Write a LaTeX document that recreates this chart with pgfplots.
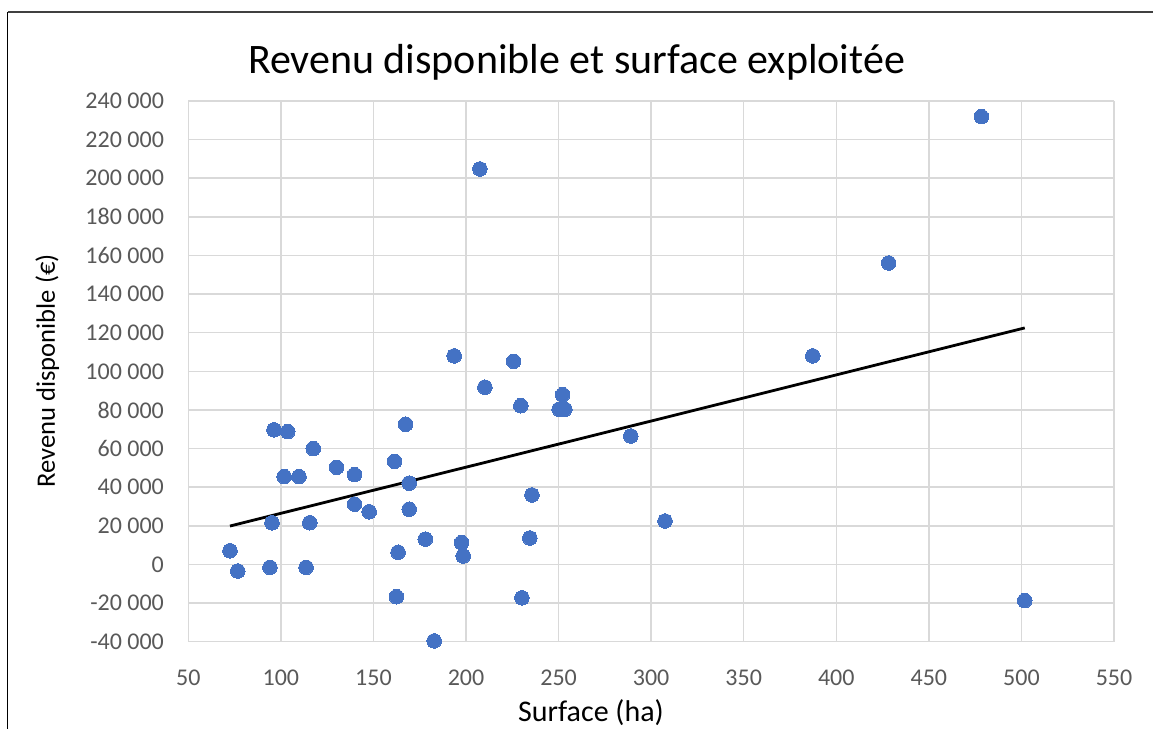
\documentclass[border=0pt]{standalone}
\usepackage{fontspec}
\setmainfont{Carlito}
\usepackage{pgfplots}
\pgfplotsset{compat=1.18}
\definecolor{excelblue}{HTML}{4472C4}
\definecolor{gridgray}{HTML}{D9D9D9}
\definecolor{ticktext}{HTML}{595959}
\begin{document}
\begin{tikzpicture}
\useasboundingbox (0,0) rectangle (576.5pt,364.5pt);
\fill[white] (0,0) rectangle (576.5pt,364.5pt);
\draw[black!75, line width=1pt] (3.75pt,358.5pt) -- (576.5pt,358.5pt);
\draw[black, line width=0.9pt] (3.75pt,0pt) -- (3.75pt,358.5pt);
\begin{axis}[
  at={(94.15pt,43.65pt)}, anchor=south west,
  scale only axis, width=462.85pt, height=270.35pt,
  xmin=50, xmax=550, ymin=-40000, ymax=240000,
  xtick={50,100,...,550},
  ytick={-40000,-20000,0,20000,40000,60000,80000,100000,120000,140000,160000,180000,200000,220000,240000},
  yticklabels={-40 000,-20 000,0,20 000,40 000,60 000,80 000,100 000,120 000,140 000,160 000,180 000,200 000,220 000,240 000},
  scaled y ticks=false,
  /pgf/number format/assume math mode=true,
  xticklabel style={font=\fontsize{12}{14}\selectfont, text=ticktext, anchor=north, inner sep=0pt, yshift=-14pt},
  yticklabel style={font=\fontsize{12}{14}\selectfont, text=ticktext, anchor=east, inner sep=0pt, xshift=-12pt},
  grid=major,
  major grid style={draw=gridgray, line width=0.75pt},
  axis line style={draw=none},
  tick style={draw=none},
  clip=false,
]
\addplot[only marks, mark=*, mark size=3.65pt, mark options={fill=excelblue, draw=excelblue, line width=0pt}] table {
x y
72.5 7100
76.7 -3400
94.1 -1500
95.2 21600
96.3 69700
103.7 68800
101.8 45500
109.8 45500
113.6 -1500
115.6 21600
117.5 60000
130.1 50300
139.8 46500
139.8 31200
147.7 27300
161.4 53400
162.4 -16700
163.3 6300
167.4 72600
169.3 42100
169.3 28600
178.0 13100
182.8 -39600
197.6 11300
198.5 4400
210.2 91800
207.5 204800
193.6 108000
225.7 105200
229.6 82200
252.2 87900
250.3 80400
253.4 80400
289.0 66500
235.6 36000
234.5 13700
230.2 -17300
307.5 22500
387.3 108000
428.3 156100
478.4 231900
501.8 -18700
};
\addplot[black, line width=1.4pt, no marks] coordinates {(72.5,19900) (501.8,122500)};
\end{axis}
\node[anchor=base, font=\fontsize{21}{25}\selectfont] at (288.25pt,327.5pt) {Revenu disponible et surface exploitée};
\node[anchor=base, rotate=90, font=\fontsize{13.3}{16}\selectfont] at (27.5pt,179pt) {Revenu disponible (€)};
\node[anchor=base, font=\fontsize{15}{18}\selectfont] at (295.5pt,3.5pt) {Surface (ha)};
\end{tikzpicture}
\end{document}
